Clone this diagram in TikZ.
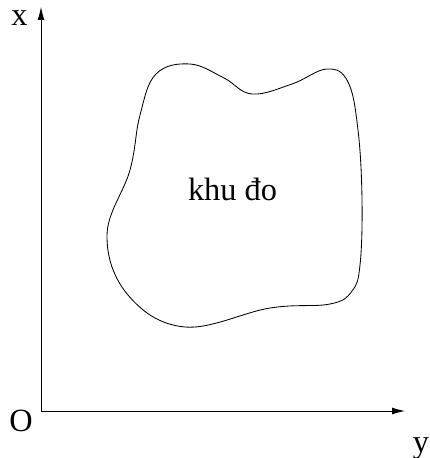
\documentclass[tikz,border=0pt]{standalone}
\usepackage{fontspec}
\setmainfont{Liberation Serif}
\usetikzlibrary{arrows.meta}

\begin{document}
\begin{tikzpicture}[x=0.025cm, y=-0.025cm, >={Latex[length=3.2mm, width=1.7mm]},
  axis/.style={->, line width=0.6pt},
  lbl/.style={anchor=base, inner sep=0pt, font=\fontsize{23}{28}\selectfont}]

% page frame (pixel units, y downwards)
\useasboundingbox (0,0) rectangle (429,458);

% ===== AXES =====
\coordinate (O)    at (41,411);
\coordinate (xend) at (41,7);
\coordinate (yend) at (405,411);
\draw[axis] (O) -- (xend);
\draw[axis] (O) -- (yend);

\node[lbl] (xlab) at (19.5,26)  {x};
\node[lbl] (olab) at (21,431)   {O};
\node[lbl] (ylab) at (421,452)  {y};

% ===== SURVEY AREA =====
\draw[line width=0.6pt] plot[smooth cycle, tension=0.65] coordinates {
  (190,64) (224,78) (252,94) (292,84) (327,69) (348,82) (358,130)
  (362,200) (360,265) (352,291) (330,304) (270,308) (185,327)
  (128,295) (107,235) (130,170) (140,115) (156,74)};

\node[lbl] (area) at (232.5,200) {khu đo};

\end{tikzpicture}
\end{document}
